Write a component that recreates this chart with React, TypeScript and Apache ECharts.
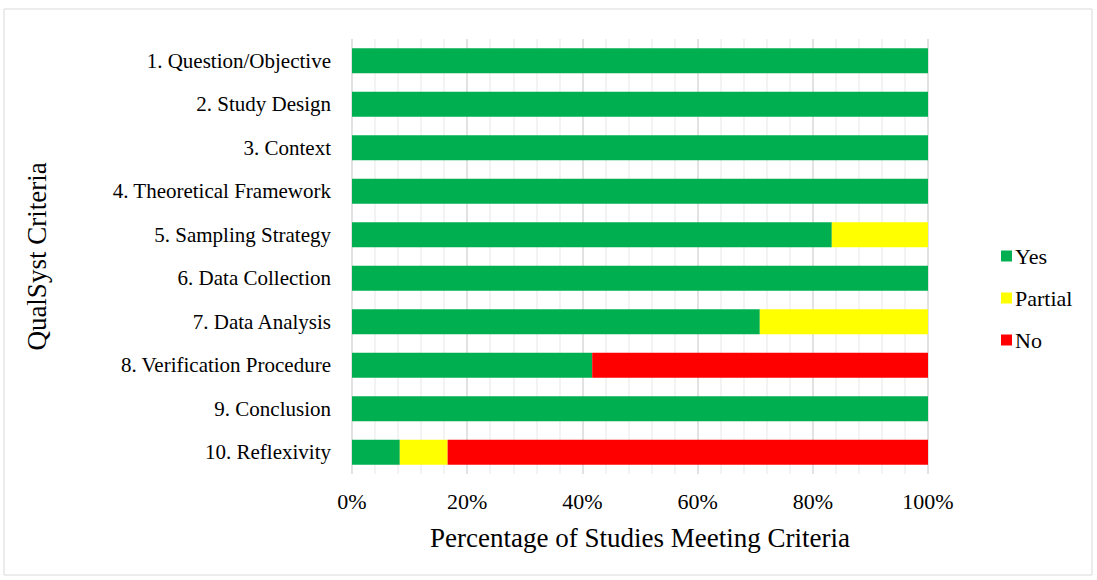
import React, { useEffect, useRef } from "react";
import * as echarts from "echarts";

const categories = [
  "1. Question/Objective",
  "2. Study Design",
  "3. Context",
  "4. Theoretical Framework",
  "5. Sampling Strategy",
  "6. Data Collection",
  "7. Data Analysis",
  "8. Verification Procedure",
  "9. Conclusion",
  "10. Reflexivity",
];
const yesValues = [100, 100, 100, 100, 83.3, 100, 70.8, 41.7, 100, 8.3];
const partialValues = [0, 0, 0, 0, 16.7, 0, 29.2, 0, 0, 8.3];
const noValues = [0, 0, 0, 0, 0, 0, 0, 58.3, 0, 83.4];
const seriesNames = ["Yes", "Partial", "No"];
const seriesColors = ["#00B050", "#FFFF00", "#FF0000"];

const FONT = "Liberation Serif";

export default function App() {
  const ref = useRef<HTMLDivElement>(null);
  useEffect(() => {
    if (!ref.current) return;
    const chart = echarts.init(ref.current, null, { renderer: "svg" });
    const data = [yesValues, partialValues, noValues];
    chart.setOption({
      animation: false,
      textStyle: { fontFamily: FONT },
      graphic: [
        {
          type: "rect",
          shape: { x: 4, y: 9, width: 1088, height: 566 },
          style: { fill: "none", stroke: "#d9d9d9", lineWidth: 1 },
          silent: true,
        },
      ],
      grid: { left: 352, right: 169, top: 39, bottom: 106, containLabel: false },
      legend: {
        orient: "vertical",
        left: 996,
        top: 240,
        itemWidth: 11,
        itemHeight: 11,
        itemGap: 20,
        itemStyle: { borderWidth: 0 },
        icon: "rect",
        textStyle: { fontFamily: FONT, fontSize: 22, color: "#000", padding: [0, 0, 0, -2] },
        data: seriesNames,
      },
      xAxis: {
        type: "value",
        min: 0,
        max: 100,
        interval: 20,
        name: "Percentage of Studies Meeting Criteria",
        nameLocation: "middle",
        nameGap: 50,
        nameTextStyle: { fontFamily: FONT, fontSize: 27, color: "#000" },
        axisLabel: {
          formatter: "{value}%",
          fontFamily: FONT,
          fontSize: 22,
          color: "#000",
          margin: 16,
        },
        axisLine: { show: false },
        axisTick: { show: false },
        splitLine: { show: true, lineStyle: { color: "#d9d9d9", width: 1.5 } },
        minorTick: { show: false, splitNumber: 5 },
        minorSplitLine: { show: true, lineStyle: { color: "#efefef", width: 1.5 } },
      },
      yAxis: {
        type: "category",
        inverse: true,
        data: categories,
        name: "QualSyst Criteria",
        nameLocation: "middle",
        nameGap: 302,
        nameRotate: 90,
        nameTextStyle: { fontFamily: FONT, fontSize: 27, color: "#000" },
        axisLabel: { fontFamily: FONT, fontSize: 21, color: "#000", margin: 21 },
        axisLine: { show: false },
        axisTick: { show: false },
        splitLine: { show: false },
      },
      series: seriesNames.map((name, i) => ({
        name,
        type: "bar",
        stack: "total",
        barCategoryGap: "42%",
        data: data[i],
        itemStyle: { color: seriesColors[i] },
      })),
    });
    return () => chart.dispose();
  }, []);
  return <div ref={ref} style={{ width: 1097, height: 580, position: "absolute", left: 0, top: 0 }} />;
}
